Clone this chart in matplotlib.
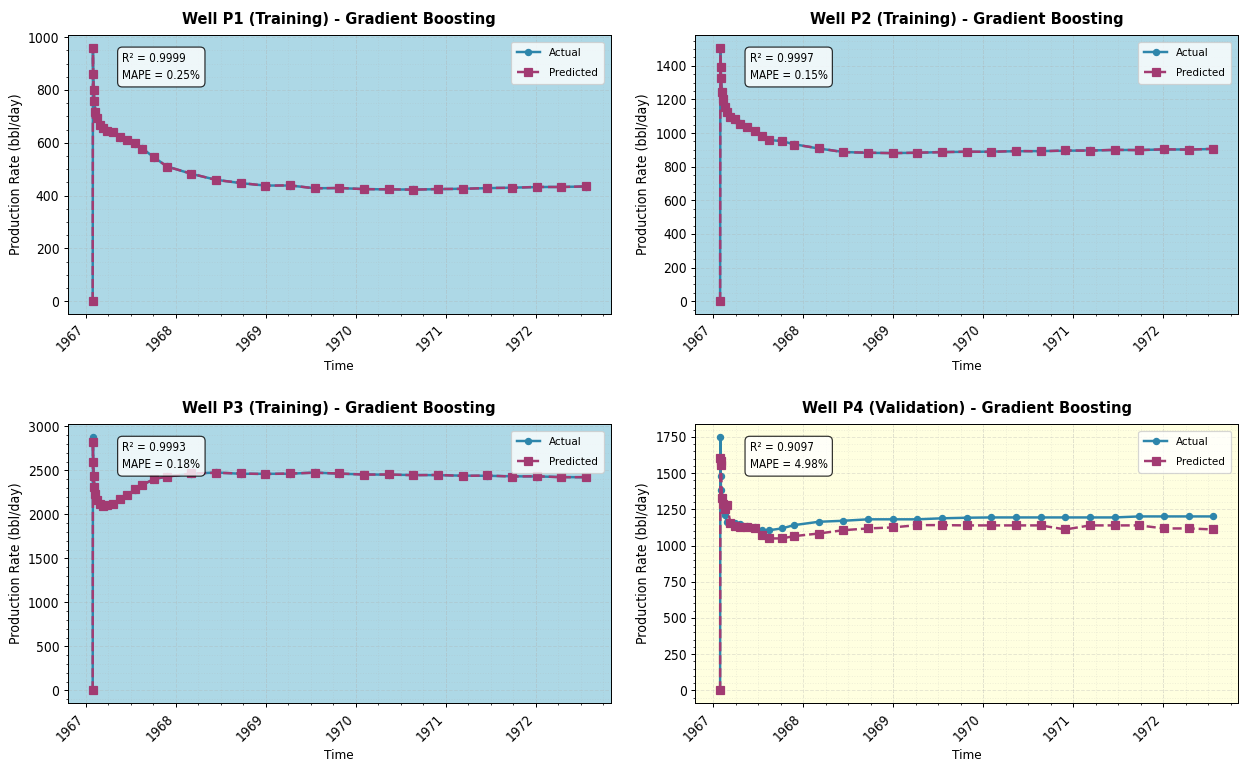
import numpy as np
import pandas as pd
import matplotlib
matplotlib.use("Agg")
import matplotlib.pyplot as plt
import matplotlib.dates as mdates
from matplotlib.ticker import AutoMinorLocator

plt.rcParams["font.family"] = ["DejaVu Sans"]
plt.rcParams["font.stretch"] = "condensed"

# Sampling schedule (days since first production)
days = [0, 1, 2, 4, 7, 11, 18, 28, 42, 60, 81, 111, 140, 170, 200, 250, 300,
        400, 500, 600, 700, 800, 900, 1000, 1100, 1200, 1300, 1400, 1500,
        1600, 1700, 1800, 1900, 2000]
start_date = "1967-01-29"

# Production rates, bbl/day
p1_actual = [0, 955, 864, 803, 756, 719, 695, 667, 655, 645, 640, 619, 612, 597, 579, 544, 511,
             482, 460, 447, 438, 438, 428, 428, 425, 423, 423, 424, 426, 428, 430, 432, 433, 434]
p1_pred = [0, 960, 862, 801, 757, 718, 694, 668, 654, 646, 639, 620, 611, 598, 578, 545, 510,
           483, 459, 448, 437, 439, 427, 429, 424, 424, 422, 425, 425, 429, 429, 433, 432, 435]

p2_actual = [0, 1500, 1398, 1325, 1249, 1199, 1159, 1125, 1099, 1079, 1059, 1035, 1013, 980, 959, 952, 934,
             908, 888, 882, 882, 882, 888, 888, 890, 892, 893, 895, 897, 899, 900, 902, 903, 905]
p2_pred = [0, 1508, 1396, 1327, 1247, 1201, 1157, 1127, 1097, 1081, 1057, 1037, 1011, 982, 957, 954, 932,
           910, 886, 884, 880, 884, 886, 890, 888, 894, 891, 897, 895, 901, 898, 904, 901, 907]

p3_actual = [0, 2880, 2602, 2431, 2317, 2222, 2165, 2119, 2097, 2097, 2119, 2172, 2222, 2279, 2336, 2400, 2431,
             2461, 2476, 2461, 2461, 2461, 2476, 2461, 2455, 2450, 2448, 2445, 2440, 2438, 2433, 2430, 2425, 2420]
p3_pred = [0, 2820, 2598, 2435, 2312, 2226, 2160, 2123, 2093, 2101, 2115, 2176, 2218, 2283, 2332, 2404, 2427,
           2465, 2472, 2465, 2457, 2465, 2472, 2465, 2451, 2454, 2444, 2449, 2436, 2442, 2429, 2434, 2421, 2424]

p4_actual = [0, 1750, 1477, 1384, 1326, 1269, 1211, 1164, 1158, 1153, 1146, 1134, 1125, 1106, 1106, 1118, 1141,
             1164, 1171, 1181, 1181, 1181, 1188, 1192, 1194, 1194, 1194, 1194, 1194, 1194, 1201, 1201, 1201, 1201]
p4_pred = [0, 1604, 1581, 1558, 1330, 1290, 1250, 1280, 1153, 1134, 1125, 1125, 1118, 1072, 1049, 1049, 1065,
           1083, 1106, 1118, 1125, 1141, 1141, 1139, 1139, 1139, 1139, 1111, 1139, 1139, 1139, 1118, 1118, 1111]

titles = ["Well P1 (Training) - Gradient Boosting",
          "Well P2 (Training) - Gradient Boosting",
          "Well P3 (Training) - Gradient Boosting",
          "Well P4 (Validation) - Gradient Boosting"]
r2_values = [0.9999, 0.9997, 0.9993, 0.9097]
mape_values = [0.25, 0.15, 0.18, 4.98]
is_training = [True, True, True, False]

actual_series = [p1_actual, p2_actual, p3_actual, p4_actual]
pred_series = [p1_pred, p2_pred, p3_pred, p4_pred]

dates = pd.to_datetime(start_date) + pd.to_timedelta(days, unit="D")

DPI = 88.5
fig, axes = plt.subplots(2, 2, figsize=(1253 / DPI, 765 / DPI), dpi=DPI)
fig.subplots_adjust(left=0.0543, right=0.988, top=0.9542, bottom=0.0810,
                    wspace=0.1565, hspace=0.396)

for ax, title, act, pred, r2, mape, train in zip(axes.flat, titles, actual_series,
                                                  pred_series, r2_values, mape_values,
                                                  is_training):
    ax.plot(dates, act, color="#2E86AB", marker="o", markersize=5,
            linewidth=2, label="Actual")
    ax.plot(dates, pred, color="#A23B72", marker="s", markersize=6,
            linewidth=2, linestyle="--", label="Predicted")
    ax.set_facecolor("lightblue" if train else "lightyellow")
    ax.set_title(title, fontsize=13.2, fontweight="bold", pad=9)
    ax.set_xlabel("Time", fontsize=11)
    ax.set_ylabel("Production Rate (bbl/day)", fontsize=11.4)
    ax.tick_params(axis="both", which="major", labelsize=11.2)
    ax.xaxis.set_major_locator(mdates.YearLocator())
    ax.xaxis.set_major_formatter(mdates.DateFormatter("%Y"))
    ax.xaxis.set_minor_locator(AutoMinorLocator())
    ax.yaxis.set_minor_locator(AutoMinorLocator())
    ax.grid(True, which="major", linestyle="--", alpha=0.3)
    ax.grid(True, which="minor", linestyle=":", alpha=0.2)
    ax.legend(loc="upper right", fontsize=9.4, labelspacing=0.85, borderpad=0.5,
              borderaxespad=0.6, handlelength=2.0)
    ax.text(0.1, 0.94, f"R² = {r2:.4f}\nMAPE = {mape:.2f}%", transform=ax.transAxes,
            fontsize=9.5, va="top", linespacing=1.45,
            bbox=dict(boxstyle="round,pad=0.4", facecolor="white", alpha=0.8))
    plt.setp(ax.get_xticklabels(), rotation=45, ha="right")

fig.savefig("out.png", dpi=DPI)
